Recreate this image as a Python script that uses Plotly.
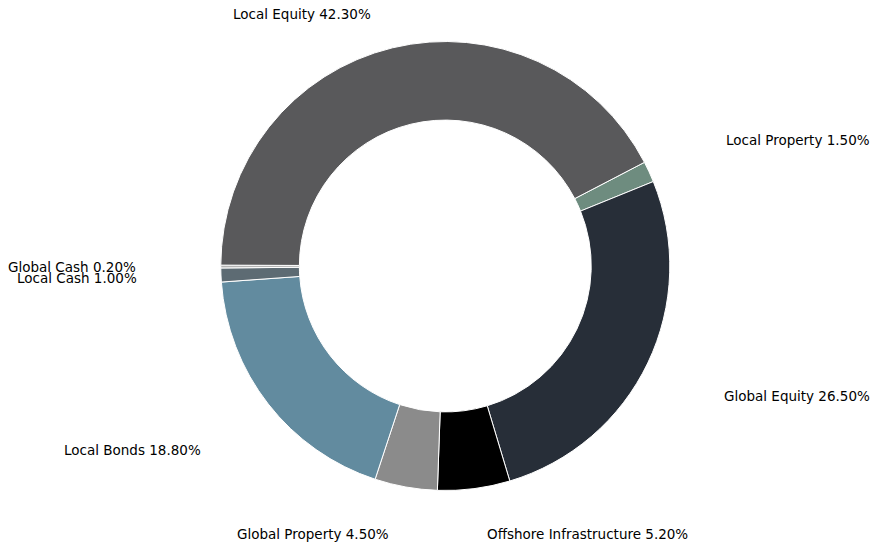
import math
import plotly.graph_objects as go

# Data (clockwise order starting at the Local Property / Local Equity boundary)
categories = ["Local Property", "Global Equity", "Offshore Infrastructure",
              "Global Property", "Local Bonds", "Local Cash", "Global Cash",
              "Local Equity"]
values = [1.5, 26.5, 5.2, 4.5, 18.8, 1.0, 0.2, 42.3]
colors = ["#6e8c7f", "#272e38", "#000000", "#8b8b8b", "#628b9f",
          "#5d6b73", "#b4b4b4", "#59595b"]

W, H = 870, 546
CX, CY = 445.3, 266.0      # donut centre in px
R = 224.5                  # outer radius in px
ROTATION = 62.5            # degrees clockwise from 12 o'clock
LRX, LRY = 307.0, 300.0    # label distance in px (x, y)
YMIN, YMAX = 14.0, 534.0   # keep labels inside figure

fig = go.Figure()
fig.add_trace(go.Pie(
    labels=categories,
    values=values,
    marker=dict(colors=colors, line=dict(color="white", width=1)),
    hole=0.65,
    sort=False,
    direction="clockwise",
    rotation=ROTATION,
    textinfo="none",
    hoverinfo="label+percent",
    showlegend=False,
    domain=dict(x=[(CX - R) / W, (CX + R) / W],
                y=[1 - (CY + R) / H, 1 - (CY - R) / H]),
))

total = sum(values)
cum = 0.0
annotations = []
for lab, v in zip(categories, values):
    mid = math.radians(ROTATION + (cum + v / 2) / total * 360)
    cum += v
    s, c = math.sin(mid), math.cos(mid)
    px = CX + LRX * s
    py = CY - LRY * c
    py = min(max(py, YMIN), YMAX)
    annotations.append(dict(
        x=px / W, y=1 - py / H, xref="paper", yref="paper",
        text=f"{lab} {v:.2f}%", showarrow=False,
        xanchor="left" if s > 0 else "right", yanchor="middle",
        font=dict(family="DejaVu Sans", size=13.5, color="black"),
    ))

fig.update_layout(
    width=W, height=H,
    margin=dict(l=0, r=0, t=0, b=0),
    paper_bgcolor="white", plot_bgcolor="white",
    annotations=annotations,
    font=dict(family="DejaVu Sans"),
)

fig.write_html("out.html",
               config={"displayModeBar": False},
               post_script="document.body.style.margin='0';"
                           "document.body.style.overflow='hidden';")
